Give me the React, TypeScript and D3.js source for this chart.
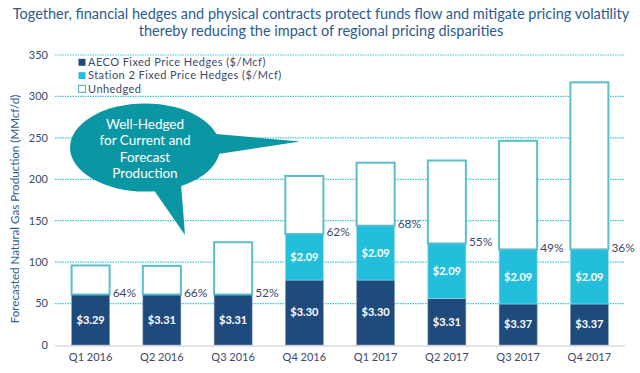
import * as d3 from 'd3';

const quarters = ['Q1 2016', 'Q2 2016', 'Q3 2016', 'Q4 2016', 'Q1 2017', 'Q2 2017', 'Q3 2017', 'Q4 2017'];
const aeco = [61, 61, 61, 78.4, 78.4, 56, 49.5, 49.5];
const station2 = [0, 0, 0, 55.6, 65.6, 66.6, 65.9, 65.9];
const totals = [96, 95.5, 124, 204, 220, 222.7, 246.4, 317];
const aecoPrice = ['$3.29', '$3.31', '$3.31', '$3.30', '$3.30', '$3.31', '$3.37', '$3.37'];
const station2Price = ['', '', '', '$2.09', '$2.09', '$2.09', '$2.09', '$2.09'];
const hedgedPct = ['64%', '66%', '52%', '62%', '68%', '55%', '49%', '36%'];
const yTicks = [0, 50, 100, 150, 200, 250, 300, 350];
const legendItems = [
  'AECO Fixed Price Hedges ($/Mcf)',
  'Station 2 Fixed Price Hedges ($/Mcf)',
  'Unhedged',
];

const W = 640;
const H = 373;
const FONT = 'Lato, "Open Sans", sans-serif';
const NAVY = '#1e4a7c';
const CYAN = '#22bedb';
const TEAL = '#5bbfca';
const TEXT = '#3b4a6b';

const rows = quarters.map((q, i) => ({
  q,
  aeco: aeco[i],
  station2: station2[i],
  unhedged: totals[i] - aeco[i] - station2[i],
}));

const keys = ['aeco', 'station2', 'unhedged'] as const;

export default function App() {
  const x = d3.scaleBand().domain(quarters).range([55, 625]).paddingInner(0.466).paddingOuter(0.233);
  const y = d3.scaleLinear().domain([0, 350]).range([345, 55]);
  const series = d3.stack<any>().keys(keys as any)(rows);
  const bw = x.bandwidth();

  const fills: Record<string, string> = { aeco: NAVY, station2: CYAN, unhedged: '#fff' };
  const legendFill = [NAVY, CYAN, '#fff'];

  return (
    <svg width={W} height={H} style={{ display: 'block', position: 'absolute', left: 0, top: 0 }} fontFamily={FONT}>
      <rect width={W} height={H} fill="#fff" />
      {/* title */}
      <text x={321} y={19} textAnchor="middle" fontSize={14.5} fill="#2b5b8e">
        Together, financial hedges and physical contracts protect funds flow and mitigate pricing volatility
      </text>
      <text x={321} y={36} textAnchor="middle" fontSize={14.5} fill="#2b5b8e">
        thereby reducing the impact of regional pricing disparities
      </text>

      {/* grid */}
      {yTicks.filter(t => t > 0).map(t => (
        <line key={t} x1={55} x2={625} y1={y(t)} y2={y(t)} stroke="#3cc6de" strokeWidth={1.2} strokeDasharray="1.5 1" />
      ))}
      <line x1={55} x2={625} y1={y(0) + 1} y2={y(0) + 1} stroke="#e2e4e8" strokeWidth={2} />

      {yTicks.map(t => (
        <text key={t} x={48} y={y(t)} dy="0.35em" textAnchor="end" fontSize={11} fill={TEXT}>
          {t}
        </text>
      ))}
      <text
        transform={`translate(15,209) rotate(-90)`}
        textAnchor="middle"
        dy="0.35em"
        fontSize={11.6}
        fill="#2e5e8e"
      >
        Forecasted Natural Gas Production (MMcf/d)
      </text>

      {/* bars */}
      {series.map(s =>
        s.map((d, i) => {
          if (d[1] - d[0] <= 0) return null;
          const isUn = s.key === 'unhedged';
          return (
            <rect
              key={s.key + i}
              x={x(quarters[i])!}
              y={y(d[1])}
              width={bw}
              height={y(d[0]) - y(d[1])}
              fill={fills[s.key]}
              stroke={isUn ? TEAL : s.key === 'aeco' ? '#8fa3bd' : '#9fdcea'}
              strokeWidth={isUn ? 2 : 0.6}
            />
          );
        })
      )}

      {/* segment labels */}
      {rows.map((r, i) => (
        <g key={r.q} fontWeight="bold" fontSize={11} fill="#fff" textAnchor="middle">
          <text x={x(r.q)! + bw / 2} y={y(r.aeco / 2)} dy="0.35em">
            {aecoPrice[i]}
          </text>
          {station2Price[i] && (
            <text x={x(r.q)! + bw / 2} y={y(r.aeco + r.station2 / 2)} dy="0.35em">
              {station2Price[i]}
            </text>
          )}
        </g>
      ))}

      {rows.map((r, i) => (
        <text key={r.q} x={x(r.q)! + bw + 3} y={y(r.aeco + r.station2) - 2} dy="0.35em" fontSize={12} fill={TEXT}>
          {hedgedPct[i]}
        </text>
      ))}

      {/* x labels */}
      {quarters.map(q => (
        <text key={q} x={x(q)! + bw / 2} y={357} dy="0.35em" textAnchor="middle" fontSize={11} fill={TEXT}>
          {q}
        </text>
      ))}

      {/* legend */}
      <g fontSize={11} fill={TEXT} letterSpacing={0.45}>
        {legendItems.map((t, i) => {
          const cy = 62.3 + i * 13.3;
          return (
            <g key={t}>
              <rect
                x={78.5}
                y={cy - 3.5}
                width={7}
                height={7}
                fill={legendFill[i]}
                stroke={i === 2 ? TEAL : 'none'}
                strokeWidth={1.2}
              />
              <text x={88} y={cy} dy="0.35em">
                {t}
              </text>
            </g>
          );
        })}
      </g>

      {/* callout */}
      <g fill="#0b96a3">
        <ellipse cx={145} cy={147.5} rx={75} ry={44} />
        <path d="M216,134 L300,141.5 L218,154 Z" />
        <path d="M151,186 L185,235 L181,184 Z" />
      </g>
      <g fill="#fff" fontSize={13.5} textAnchor="middle">
        {['Well-Hedged', 'for Current and', 'Forecast', 'Production'].map((t, i) => (
          <text key={t} x={145} y={124 + i * 16.5} dy="0.35em">
            {t}
          </text>
        ))}
      </g>
    </svg>
  );
}
